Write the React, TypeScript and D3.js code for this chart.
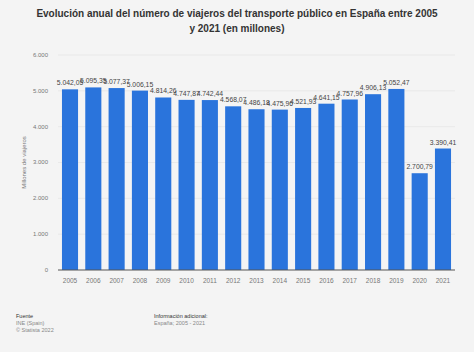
import * as d3 from "d3";
import { useEffect, useRef } from "react";

const years = [
  "2005", "2006", "2007", "2008", "2009", "2010", "2011", "2012", "2013",
  "2014", "2015", "2016", "2017", "2018", "2019", "2020", "2021",
];
const viajeros = [
  5042.05, 5095.35, 5077.37, 5006.15, 4814.26, 4747.87, 4742.44, 4568.07, 4486.18,
  4475.96, 4521.93, 4641.15, 4757.96, 4906.13, 5052.47, 2700.79, 3390.41,
];
const yTicks = [0, 1000, 2000, 3000, 4000, 5000, 6000];

const W = 474;
const H = 352;
const BLUE = "#2a74dc";
const FONT = "'Liberation Sans', Arial, sans-serif";

const fmtTick = (v: number) => d3.format(",")(v).replace(/,/g, ".");
const fmtVal = (v: number) =>
  d3.format(",.2f")(v).replace(/,/g, "#").replace(".", ",").replace(/#/g, ".");

export default function App() {
  const ref = useRef<SVGSVGElement>(null);

  useEffect(() => {
    if (!ref.current) return;
    document.body.style.margin = "0";
    const svg = d3.select(ref.current);
    svg.selectAll("*").remove();

    const margin = { top: 55, right: 19, bottom: 82, left: 58 };
    const innerW = W - margin.left - margin.right;
    const innerH = H - margin.top - margin.bottom;

    svg.append("rect").attr("width", W).attr("height", H).attr("fill", "#f4f4f4");

    // title
    const title = svg
      .append("text")
      .attr("x", W / 2)
      .attr("text-anchor", "middle")
      .attr("font-family", FONT)
      .attr("font-weight", "bold")
      .attr("font-size", 10)
      .attr("fill", "#333");
    title.append("tspan").attr("x", W / 2).attr("y", 17)
      .text("Evolución anual del número de viajeros del transporte público en España entre 2005");
    title.append("tspan").attr("x", W / 2).attr("y", 32).text("y 2021 (en millones)");

    const x = d3.scaleBand().domain(years).range([0, innerW]).paddingInner(0.31).paddingOuter(0.17);
    const y = d3.scaleLinear().domain([0, 6000]).range([innerH, 0]);

    const g = svg.append("g").attr("transform", `translate(${margin.left},${margin.top})`);

    // grid
    g.selectAll("line.grid")
      .data(yTicks.filter((t) => t > 0))
      .join("line")
      .attr("class", "grid")
      .attr("x1", 0)
      .attr("x2", innerW)
      .attr("y1", (d) => y(d))
      .attr("y2", (d) => y(d))
      .attr("stroke", "#e6e6e6")
      .attr("stroke-width", 0.8);

    // y tick labels
    g.selectAll("text.ytick")
      .data(yTicks)
      .join("text")
      .attr("class", "ytick")
      .attr("x", -10)
      .attr("y", (d) => y(d))
      .attr("dy", "0.32em")
      .attr("text-anchor", "end")
      .attr("font-family", FONT)
      .attr("font-size", 6)
      .attr("fill", "#777")
      .text((d) => fmtTick(d));

    g.append("text")
      .attr("transform", `translate(-32,${innerH / 2}) rotate(-90)`)
      .attr("text-anchor", "middle")
      .attr("font-family", FONT)
      .attr("font-size", 6)
      .attr("fill", "#777")
      .text("Millones de viajeros");

    // bars
    g.selectAll("rect.bar")
      .data(viajeros)
      .join("rect")
      .attr("class", "bar")
      .attr("x", (_, i) => x(years[i]) ?? 0)
      .attr("width", x.bandwidth())
      .attr("y", (d) => y(d))
      .attr("height", (d) => innerH - y(d))
      .attr("fill", BLUE);

    // value labels
    g.selectAll("text.val")
      .data(viajeros)
      .join("text")
      .attr("class", "val")
      .attr("x", (_, i) => (x(years[i]) ?? 0) + x.bandwidth() / 2)
      .attr("y", (d) => y(d) - 4)
      .attr("text-anchor", "middle")
      .attr("font-family", FONT)
      .attr("font-size", 6.8)
      .attr("fill", "#444")
      .text((d) => fmtVal(d));

    // x axis
    g.append("line")
      .attr("x1", 0)
      .attr("x2", innerW)
      .attr("y1", innerH)
      .attr("y2", innerH)
      .attr("stroke", "#555")
      .attr("stroke-width", 1);

    g.selectAll("text.xtick")
      .data(years)
      .join("text")
      .attr("class", "xtick")
      .attr("x", (d) => (x(d) ?? 0) + x.bandwidth() / 2)
      .attr("y", innerH + 13)
      .attr("text-anchor", "middle")
      .attr("font-family", FONT)
      .attr("font-size", 6.5)
      .attr("fill", "#777")
      .text((d) => d);

    // footer
    const foot = svg.append("g").attr("font-family", FONT).attr("font-size", 5.5);
    foot.append("text").attr("x", 16).attr("y", 318).attr("fill", "#333").text("Fuente");
    foot.append("text").attr("x", 16).attr("y", 325).attr("fill", "#888").text("INE (Spain)");
    foot.append("text").attr("x", 16).attr("y", 332).attr("fill", "#888").text("© Statista 2022");
    foot.append("text").attr("x", 154).attr("y", 318).attr("fill", "#333").text("Información adicional:");
    foot.append("text").attr("x", 154).attr("y", 325).attr("fill", "#888").text("España; 2005 - 2021");
  }, []);

  return (
    <div style={{ position: "absolute", left: 0, top: 0 }}>
      <svg ref={ref} width={W} height={H} style={{ display: "block" }} />
    </div>
  );
}
